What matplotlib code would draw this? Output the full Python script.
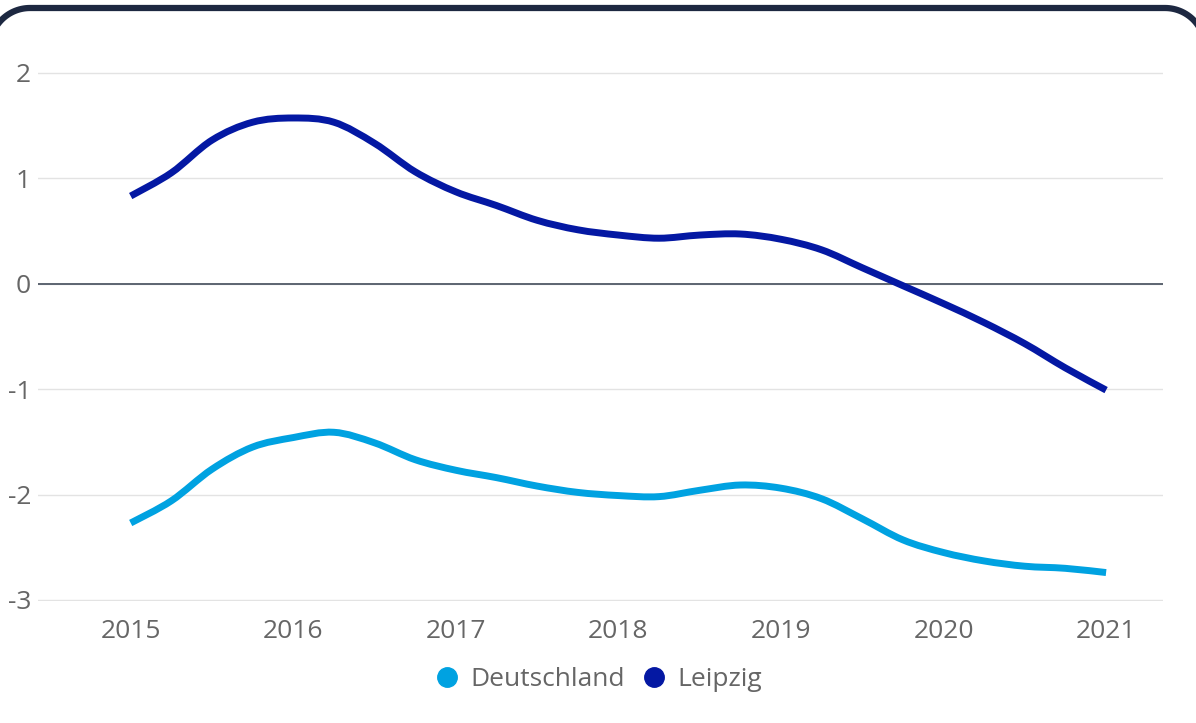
import numpy as np
import matplotlib
matplotlib.use("Agg")
import matplotlib.pyplot as plt
from matplotlib.path import Path
from matplotlib.patches import PathPatch
from matplotlib.lines import Line2D

plt.rcParams['font.family'] = ['Open Sans', 'DejaVu Sans']

# quarterly readings, 2015 - 2021
quarters = [2015 + 0.25 * i for i in range(25)]
leipzig = [0.83, 1.05, 1.36, 1.53, 1.57, 1.53, 1.33, 1.06, 0.87, 0.74, 0.60, 0.51,
           0.46, 0.43, 0.46, 0.47, 0.42, 0.32, 0.15, -0.02, -0.19, -0.37, -0.57, -0.80, -1.01]
deutschland = [-2.27, -2.06, -1.76, -1.55, -1.46, -1.41, -1.51, -1.67, -1.77, -1.84, -1.92, -1.98,
               -2.01, -2.02, -1.96, -1.91, -1.94, -2.04, -2.23, -2.43, -2.55, -2.63, -2.68, -2.70, -2.74]
years = [2015, 2016, 2017, 2018, 2019, 2020, 2021]
yticks = [-3, -2, -1, 0, 1, 2]
series = [("Deutschland", deutschland, "#00a2e1"), ("Leipzig", leipzig, "#0418a3")]


def smooth_path(xs, ys):
    # catmull-rom through the points, as cubic bezier segments
    p = np.column_stack([xs, ys])
    p = np.vstack([p[0], p, p[-1]])
    verts = [p[1]]
    codes = [Path.MOVETO]
    for i in range(1, len(p) - 2):
        c1 = p[i] + (p[i + 1] - p[i - 1]) / 6
        c2 = p[i + 1] - (p[i + 2] - p[i]) / 6
        verts += [c1, c2, p[i + 1]]
        codes += [Path.CURVE4] * 3
    return Path(verts, codes)


fig = plt.figure(figsize=(11.96, 7.23), dpi=100)
ax = fig.add_axes([0.0318, 0.1687, 0.9406, 0.7746])

for name, vals, col in series:
    ax.add_patch(PathPatch(smooth_path(quarters, vals), facecolor="none", edgecolor=col,
                           lw=5, capstyle="butt", zorder=3))

ax.set_xlim(2014.43, 2021.35)
ax.set_ylim(-3.01, 2.3)
ax.set_yticks(yticks)
ax.set_yticklabels([str(v) for v in yticks])
ax.set_xticks(years)
ax.set_xticklabels([str(y) for y in years])
ax.grid(axis="y", color="#e3e3e3", lw=1)
ax.axhline(0, color="#5c6470", lw=1.4, zorder=2)
for s in ax.spines.values():
    s.set_visible(False)
ax.tick_params(length=0, labelsize=19, labelcolor="#666666")
ax.tick_params(axis="y", pad=5)
ax.tick_params(axis="x", pad=13)

handles = [Line2D([], [], ls="none", marker="o", ms=14, color=c) for _, _, c in series]
fig.legend(handles, [n for n, _, _ in series], loc="center", bbox_to_anchor=(0.5, 0.06),
           ncol=2, frameon=False, fontsize=19, labelcolor="#666666",
           handletextpad=0.4, columnspacing=0.6, handlelength=1.0)

# rounded card border (pixel coords), sides and bottom run off the image
x0, x1, y0, y1, r = -10, 1205, -28, 715, 40
t = np.linspace(0, np.pi / 2, 30)
bx, by = [], []
for cx, cy, a0 in [(x1 - r, y0 + r, -np.pi / 2), (x1 - r, y1 - r, 0),
                   (x0 + r, y1 - r, np.pi / 2), (x0 + r, y0 + r, np.pi)]:
    bx += list(cx + r * np.cos(a0 + t))
    by += list(cy + r * np.sin(a0 + t))
bx.append(bx[0])
by.append(by[0])
fig.add_artist(Line2D(bx, by, transform=None, color="#1d2841", lw=4.5, zorder=10))

fig.savefig("out.png", dpi=100)
